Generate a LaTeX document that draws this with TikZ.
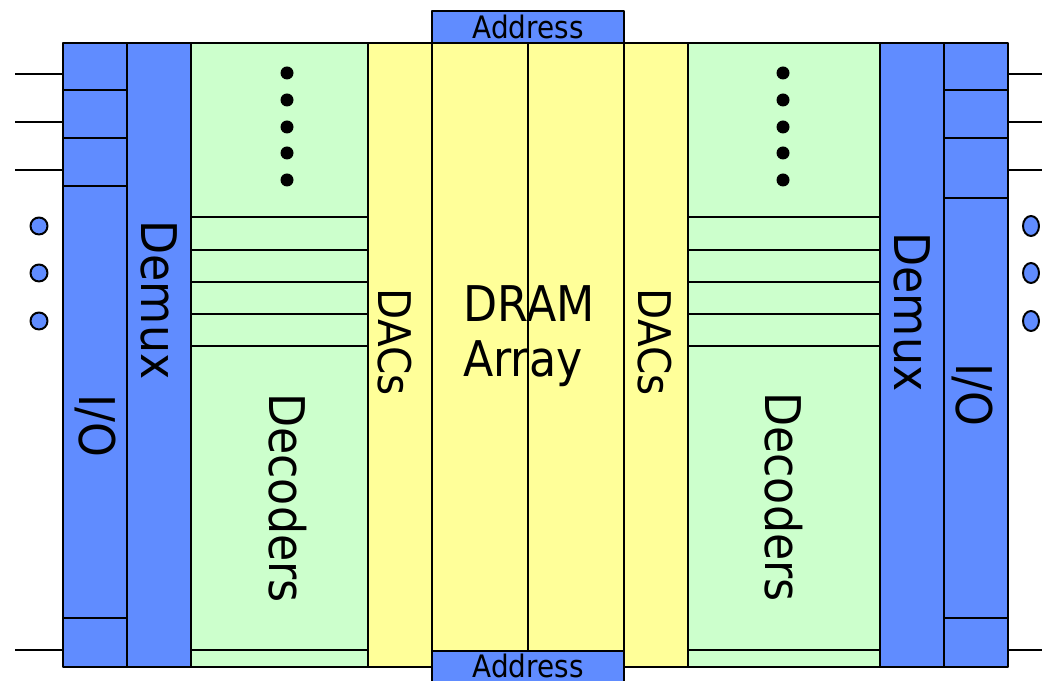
\documentclass[tikz,border=0pt]{standalone}
\usepackage{fontspec}
\setmainfont{DejaVu Sans}[FakeStretch=0.9]
\usepackage{xcolor}
\usetikzlibrary{positioning}

\definecolor{ioblue}{RGB}{96,140,255}
\definecolor{decgreen}{RGB}{204,255,204}
\definecolor{dacyellow}{RGB}{255,255,153}
\newlength{\upx}\setlength{\upx}{0.025cm}

\tikzset{
  block/.style={draw,line width=1.6pt,inner sep=0pt,anchor=north west},
  bluebox/.style={block,fill=ioblue},
  greenbox/.style={block,fill=decgreen},
  yellowbox/.style={block,fill=dacyellow},
  rule/.style={line width=1.6pt},
  biglabel/.style={font=\fontsize{35}{38}\selectfont,rotate=-90,inner sep=0pt},
  daclabel/.style={font=\fontsize{32}{35}\selectfont,rotate=-90,inner sep=0pt},
}

\begin{document}
\begin{tikzpicture}[x=0.025cm,y=-0.025cm,line join=round]
    \useasboundingbox (0,0) rectangle (1042,681);
    % ============ Columns, left to right ============
    \node[bluebox,minimum width=64\upx,minimum height=624\upx]   (ioL)  at (62,42)  {};
    \node[bluebox,minimum width=64\upx,minimum height=624\upx]   (dmxL) at (126,42) {};
    \node[greenbox,minimum width=177\upx,minimum height=624\upx] (decL) at (190,42) {};
    \node[yellowbox,minimum width=64\upx,minimum height=624\upx] (dacL) at (367,42) {};
    \node[yellowbox,minimum width=192\upx,minimum height=624\upx] (dram) at (431,42) {};
    \node[yellowbox,minimum width=64\upx,minimum height=624\upx] (dacR) at (623,42) {};
    \node[greenbox,minimum width=192\upx,minimum height=624\upx] (decR) at (687,42) {};
    \node[bluebox,minimum width=64\upx,minimum height=624\upx]   (dmxR) at (879,42) {};
    \node[bluebox,minimum width=64\upx,minimum height=624\upx]   (ioR)  at (943,42) {};
    \draw[rule] (dram.north) -- (dram.south);
    % ============ I/O cells ============
    \foreach \y in {90,138,186,618} \draw[rule] (62,\y) -- (126,\y);
    \foreach \y in {90,138,198,618} \draw[rule] (943,\y) -- (1007,\y);
    % ============ Decoder rows ============
    \foreach \y in {217,250,282,314,346,650} {
      \draw[rule] (190,\y) -- (367,\y);
      \draw[rule] (687,\y) -- (879,\y);
    }
    \foreach \y in {73,100,127,153,180} {
      \fill (287,\y) circle (6.5);
      \fill (783,\y) circle (6.5);
    }
    % ============ Address ============
    \node[bluebox,minimum width=192\upx,minimum height=32\upx] (addrT) at (431,10) {};
    \node[bluebox,minimum width=192\upx,minimum height=32\upx] (addrB) at (431,650) {};
    \node[font=\fontsize{22}{24}\selectfont,inner sep=0pt] at (addrT.center) {Address};
    \node[font=\fontsize{22}{24}\selectfont,inner sep=0pt] at ([yshift=-16\upx]addrB.north) {Address};
    % ============ Pins ============
    \foreach \y in {74,122,170,650} {
      \draw[rule] (15,\y) -- (62,\y);
      \draw[rule] (1007,\y) -- (1042,\y);
    }
    \foreach \y in {226,273,321} {
      \draw[line width=1.4pt,fill=ioblue] (39,\y) circle (8.5);
      \draw[line width=1.4pt,fill=ioblue] (1031,\y) ellipse (8 and 10);
    }
    % ============ Labels ============
    \node[biglabel] (ioLt)   at (95,426)  {I/O};
    \node[biglabel] (dmxLt)  at (159,300) {Demux};
    \node[biglabel] (decLt)  at (288,498) {Decoders};
    \node[daclabel] (dacLt)  at (395,342) {DACs};
    \node[font=\fontsize{35}{39}\selectfont,align=left,inner sep=0pt] (dramt) at (529,336) {DRAM\\Array};
    \node[daclabel] (dacRt)  at (655,342) {DACs};
    \node[biglabel] (decRt)  at (784,497) {Decoders};
    \node[biglabel] (dmxRt)  at (912,312) {Demux};
    \node[biglabel] (ioRt)   at (972,395) {I/O};
  \end{tikzpicture}
\end{document}
